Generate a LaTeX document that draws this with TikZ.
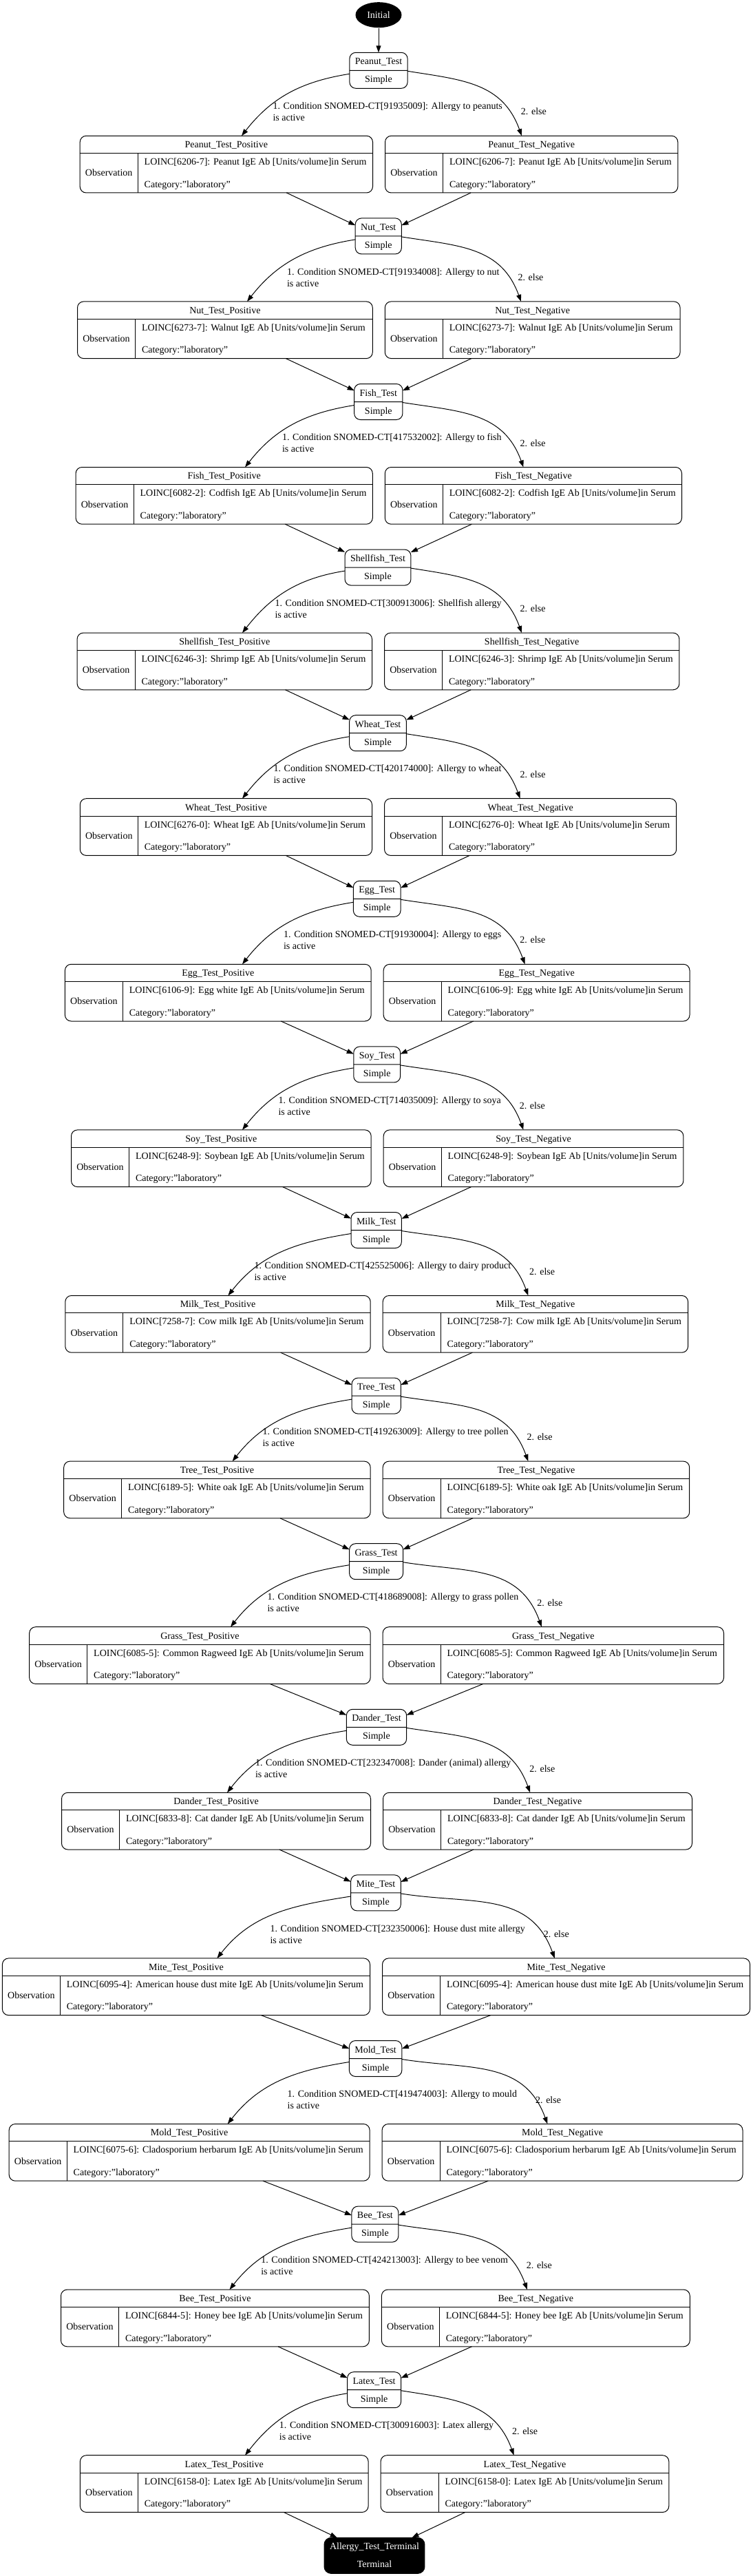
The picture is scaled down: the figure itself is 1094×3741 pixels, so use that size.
\documentclass[tikz,border=0pt]{standalone}
\usepackage{fontspec}
\setmainfont{Liberation Serif}
\usetikzlibrary{arrows.meta}
\usetikzlibrary{positioning}
\usetikzlibrary{shapes.geometric,shapes.multipart}
\newcommand{\rowstrut}{\rule[-8pt]{0pt}{25pt}}

\begin{document}
\begin{tikzpicture}[
  x=1pt, y=1pt, line width=1pt,
  > = {Triangle[length=10pt,width=7pt]},
  every node/.style = {font=\fontsize{14}{17}\selectfont},
  txt/.style = {inner sep=0pt},
  start/.style = {ellipse, fill, text=white, minimum width=67pt, minimum height=37pt, inner sep=0pt},
  testbox/.style = {draw, rounded corners=9pt, rectangle split, rectangle split parts=2, inner xsep=8pt, inner ysep=0pt, outer sep=0pt},
  endbox/.style = {testbox, fill, text=white, rounded corners=10pt},
  obsbox/.style = {draw, rounded corners=9pt, minimum height=82.7pt, inner sep=0pt, outer sep=0pt}
  ]
  \useasboundingbox (0,0) rectangle (1094,-3741);

  \node[start] (init) at (550,-21.7) {Initial};
  \node[endbox] (T16) at (544,-3711.3) {\rowstrut Allergy\_Test\_Terminal\nodepart{two}\rowstrut Terminal};

  % one test with its positive and negative result
  \foreach \i/\nm/\cx/\bw/\lx/\tipl/\tipr/\scode/\sname/\lcode/\lname in {
    1/Peanut/550/425.3/396/351/758/91935009/Allergy to peanuts/6206-7/Peanut IgE Ab,
    2/Nut/549.8/428.8/416.5/359/757/91934008/Allergy to nut/6273-7/Walnut IgE Ab,
    3/Fish/549.8/431.2/409.5/356/760.5/417532002/Allergy to fish/6082-2/Codfish IgE Ab,
    4/Shellfish/549/428.4/399/352/758/300913006/Shellfish allergy/6246-3/Shrimp IgE Ab,
    5/Wheat/549/424.2/397/352/755.6/420174000/Allergy to wheat/6276-0/Wheat IgE Ab,
    6/Egg/547.7/444.8/411.6/352/762.6/91930004/Allergy to eggs/6106-9/Egg white IgE Ab,
    7/Soy/547.7/435.7/404/352/760.5/714035009/Allergy to soya/6248-9/Soybean IgE Ab,
    8/Milk/546.7/443.4/369/331.4/767.4/425525006/Allergy to dairy product/7258-7/Cow milk IgE Ab,
    9/Tree/546.7/445.5/381/337.7/767.4/419263009/Allergy to tree pollen/6189-5/White oak IgE Ab,
    10/Grass/546.6/495.4/388/335/787/418689008/Allergy to grass pollen/6085-5/Common Ragweed IgE Ab,
    11/Dander/547/449/370.5/330/770.2/232347008/{Dander (animal) allergy}/6833-8/Cat dander IgE Ab,
    12/Mite/546/534.1/392/315.4/805.8/232350006/House dust mite allergy/6095-4/American house dust mite IgE Ab,
    13/Mold/545.6/523.9/417.2/330.7/795.4/419474003/Allergy to mould/6075-6/Cladosporium herbarum IgE Ab,
    14/Bee/544.9/447.9/378.8/333.5/766/424213003/Allergy to bee venom/6844-5/Honey bee IgE Ab,
    15/Latex/543.6/418.7/405.4/356/746.7/300916003/Latex allergy/6158-0/Latex IgE Ab}{
    \pgfmathsetmacro\ty{77.3+240.6*(\i-1)}
    \node[testbox] (T\i) at (\cx,-\ty-25) {\rowstrut\nm\_Test\nodepart{two}\rowstrut Simple};
    \node[obsbox, minimum width=\bw pt, anchor=north east] (P\i) at (\cx-8.5,-\ty-120) {};
    \node[obsbox, minimum width=\bw pt, anchor=north west] (N\i) at (\cx+9.5,-\ty-120) {};
    \foreach \bx/\res in {P/Positive,N/Negative}{
      \node[txt, anchor=base] (\bx\i-title) at ([yshift=-17.3pt]\bx\i.north) {\nm\_Test\_\res};
      \draw ([yshift=-25.4pt]\bx\i.north west) -- ([yshift=-25.4pt]\bx\i.north east);
      \draw ([shift={(84pt,-25.4pt)}]\bx\i.north west) -- ([xshift=84pt]\bx\i.south west);
      \node[txt, anchor=base] (\bx\i-obs) at ([shift={(42pt,-58.6pt)}]\bx\i.north west) {Observation};
      \node[txt, anchor=base west] (\bx\i-code) at ([shift={(93pt,-42.3pt)}]\bx\i.north west) {LOINC[\lcode]: \lname{} [Units/volume]in Serum};
      \node[txt, anchor=base west] (\bx\i-cat) at ([shift={(93pt,-75pt)}]\bx\i.north west) {Category:"laboratory"};
    }
    \node[txt, align=left, anchor=north west] (L\i) at (\lx,-\ty-71) {1. Condition SNOMED-CT[\scode]: \sname\\is active};
    \node[txt, right=26pt of L\i] (E\i) {2. else};
    \draw[->] ([yshift=-5pt]T\i.west) to[out=189,in=52] (P\i.north -| \tipl,0);
    \draw[->] ([yshift=-1pt]T\i.east) to[out=-9,in=110,looseness=1.1] (N\i.north -| \tipr,0);
  }

  \draw[->] (init) -- (T1);
  \foreach \i [evaluate=\i as \nx using int(\i+1)] in {1,...,15}{
    \draw[->] (P\i) -- (T\nx);
    \draw[->] (N\i) -- (T\nx);
  }
\end{tikzpicture}
\end{document}
